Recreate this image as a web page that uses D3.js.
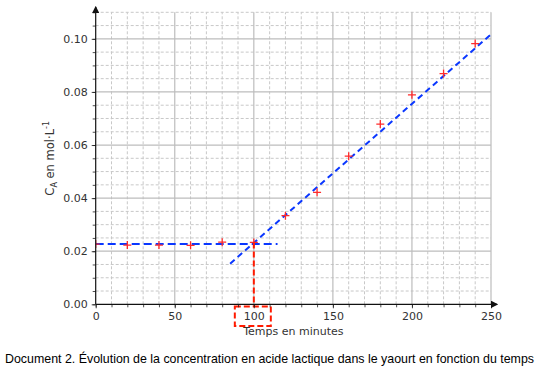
<!DOCTYPE html>
<html>
<head>
<meta charset="utf-8">
<script src="https://cdn.jsdelivr.net/npm/d3@7"></script>
<style>
  body { margin: 0; background: #fff; }
  svg { display: block; }
</style>
</head>
<body>
<svg id="chart" width="538" height="377"></svg>
<script>
// measured points (time in minutes, concentration in mol/L)
const times = [0, 20, 40, 60, 80, 100, 120, 140, 160, 180, 200, 220, 240];
const conc = [0.0227, 0.0223, 0.0223, 0.0222, 0.0234, 0.0233, 0.0334, 0.0422, 0.0558, 0.0679, 0.0789, 0.0869, 0.0982];

// fitted lines
const plateauLine = [[0, 0.0227], [115, 0.0227]];
const slopeLine = [[85, 0.0153], [250, 0.1017]];
const tEnd = 100; // intersection read on the graph

const xTicks = [0, 50, 100, 150, 200, 250];
const yTicks = [0, 0.02, 0.04, 0.06, 0.08, 0.10];

const svg = d3.select("#chart");
const x = d3.scaleLinear().domain([0, 250]).range([95.7, 491]);
const y = d3.scaleLinear().domain([0, 0.11]).range([304.3, 12.3]);

const font = "DejaVu Sans, sans-serif";

// grid
const grid = svg.append("g");
grid.selectAll(".vmin").data(d3.range(10, 251, 10).filter(d => d % 50))
  .join("line")
  .attr("x1", d => x(d)).attr("x2", d => x(d))
  .attr("y1", y(0)).attr("y2", y(0.11))
  .attr("stroke", "#c8c8c8").attr("stroke-dasharray", "3,2");
grid.selectAll(".hmin").data(d3.range(1, 23).map(i => i * 0.005).filter((d, i) => (i + 1) % 4))
  .join("line")
  .attr("x1", x(0)).attr("x2", x(250))
  .attr("y1", d => y(d)).attr("y2", d => y(d))
  .attr("stroke", "#c8c8c8").attr("stroke-dasharray", "3,2");
grid.selectAll(".vmaj").data(xTicks.slice(1))
  .join("line")
  .attr("x1", d => x(d)).attr("x2", d => x(d))
  .attr("y1", y(0)).attr("y2", y(0.11))
  .attr("stroke", "#bdbdbd").attr("stroke-width", 1.2);
grid.selectAll(".hmaj").data(yTicks.slice(1))
  .join("line")
  .attr("x1", x(0)).attr("x2", x(250))
  .attr("y1", d => y(d)).attr("y2", d => y(d))
  .attr("stroke", "#bdbdbd").attr("stroke-width", 1.2);

// clip to plot area
svg.append("clipPath").attr("id", "plot")
  .append("rect")
  .attr("x", x(0)).attr("y", y(0.11))
  .attr("width", x(250) - x(0)).attr("height", y(0) - y(0.11));

const line = d3.line().x(d => x(d[0])).y(d => y(d[1]));
const plot = svg.append("g").attr("clip-path", "url(#plot)");

plot.append("path").datum(plateauLine)
  .attr("d", line).attr("fill", "none")
  .attr("stroke", "#0a37ff").attr("stroke-width", 2)
  .attr("stroke-dasharray", "8,4");
plot.append("path").datum(slopeLine)
  .attr("d", line).attr("fill", "none")
  .attr("stroke", "#0a37ff").attr("stroke-width", 2)
  .attr("stroke-dasharray", "6,4");

// red markers
const pts = plot.selectAll(".pt").data(times.map((t, i) => [t, conc[i]]))
  .join("g")
  .attr("transform", d => `translate(${x(d[0])},${y(d[1])})`);
pts.append("path").attr("d", "M-4,0H4M0,-4V4")
  .attr("stroke", "#ff2b2b").attr("stroke-width", 1.3);

// construction: vertical red dashed line and box around 100
svg.append("line")
  .attr("x1", x(tEnd)).attr("x2", x(tEnd))
  .attr("y1", y(0.0233)).attr("y2", 306.5)
  .attr("stroke", "#ff1a00").attr("stroke-width", 2)
  .attr("stroke-dasharray", "6,3");
svg.append("rect")
  .attr("x", x(tEnd) - 19).attr("y", 306.5)
  .attr("width", 36).attr("height", 19.5)
  .attr("fill", "none")
  .attr("stroke", "#ff1a00").attr("stroke-width", 2)
  .attr("stroke-dasharray", "6,3");

// axes
const xAxis = svg.append("g").attr("transform", `translate(0,${y(0)})`);
xAxis.call(d3.axisBottom(x).tickValues(d3.range(0, 251, 10)).tickSize(3).tickFormat(""));
xAxis.append("g").call(d3.axisBottom(x).tickValues(xTicks).tickSize(4).tickPadding(4))
  .call(g => g.select(".domain").remove());
const yAxis = svg.append("g").attr("transform", `translate(${x(0)},0)`);
yAxis.call(d3.axisLeft(y).tickValues(d3.range(0, 23).map(i => i * 0.005)).tickSize(3).tickFormat(""));
yAxis.append("g").call(d3.axisLeft(y).tickValues(yTicks).tickSize(4).tickPadding(4).tickFormat(d3.format(".2f")))
  .call(g => g.select(".domain").remove());

svg.selectAll(".domain").remove();
svg.selectAll(".tick line").attr("stroke", "#222").attr("stroke-width", 0.8);
svg.selectAll(".tick text").attr("font-family", font).attr("font-size", 11).attr("fill", "#333");

// axis lines with arrows
svg.append("defs").append("marker")
  .attr("id", "arrow").attr("viewBox", "0 0 6 6")
  .attr("refX", 5).attr("refY", 3)
  .attr("markerWidth", 6).attr("markerHeight", 6)
  .attr("orient", "auto")
  .append("path").attr("d", "M0,0L6,3L0,6Z").attr("fill", "#111");
svg.append("line")
  .attr("x1", x(0)).attr("x2", x(0))
  .attr("y1", y(0)).attr("y2", 7)
  .attr("stroke", "#111").attr("stroke-width", 1.2)
  .attr("marker-end", "url(#arrow)");
svg.append("line")
  .attr("x1", x(0)).attr("x2", 497)
  .attr("y1", y(0)).attr("y2", y(0))
  .attr("stroke", "#111").attr("stroke-width", 1.2)
  .attr("marker-end", "url(#arrow)");

// axis titles
svg.append("text")
  .attr("x", (x(0) + x(250)) / 2).attr("y", 335)
  .attr("text-anchor", "middle")
  .attr("font-family", font).attr("font-size", 11).attr("fill", "#333")
  .text("Temps en minutes");

const yl = svg.append("text")
  .attr("transform", `translate(54,${(y(0) + y(0.11)) / 2}) rotate(-90)`)
  .attr("text-anchor", "middle")
  .attr("font-family", font).attr("font-size", 11.5).attr("fill", "#333");
yl.append("tspan").text("C");
yl.append("tspan").attr("font-size", 8).attr("dy", 3).text("A");
yl.append("tspan").attr("dy", -3).text(" en mol·L");
yl.append("tspan").attr("font-size", 8).attr("dy", -5).text("-1");

// caption
svg.append("text")
  .attr("x", 5).attr("y", 363)
  .attr("font-family", "Liberation Sans, Arial, sans-serif")
  .attr("font-size", 12.4).attr("fill", "#000")
  .text("Document 2. Évolution de la concentration en acide lactique dans le yaourt en fonction du temps");
</script>
</body>
</html>
